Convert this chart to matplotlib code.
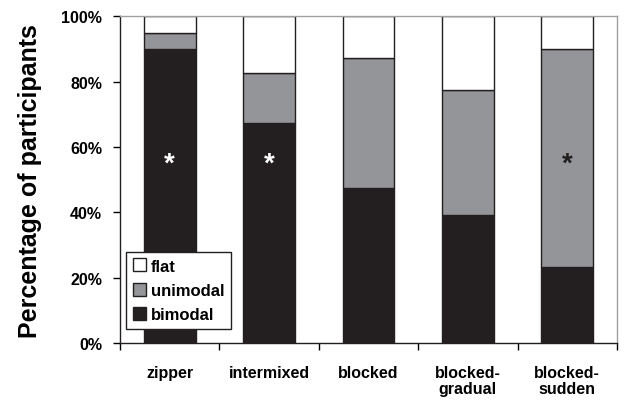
import numpy as np
import matplotlib
matplotlib.use("Agg")
import matplotlib.pyplot as plt
from matplotlib.patches import Patch

plt.rcParams['font.family'] = ['Liberation Sans', 'DejaVu Sans']
plt.rcParams['font.weight'] = 'bold'

# percentage of participants per condition
conditions = ['zipper', 'intermixed', 'blocked', 'blocked-\ngradual', 'blocked-\nsudden']
bimodal = [90.0, 67.4, 47.4, 39.1, 23.4]
unimodal = [5.0, 15.2, 39.8, 38.3, 66.6]
flat = [5.0, 17.4, 12.8, 22.6, 10.0]

# significance markers (star colour depends on the segment it sits on)
star_x = [0, 1, 4]
star_y = [55, 55, 55]
star_color = ['white', 'white', '#231f20']

c_bi, c_uni, c_flat = '#231f20', '#939598', 'white'
edge = '#231f20'

fig = plt.figure(figsize=(6.42, 4.02), dpi=100)
ax = fig.add_axes([0.187, 0.1443, 0.774, 0.8127])

x = np.arange(len(conditions))
w = 0.52
bot2 = np.array(bimodal) + np.array(unimodal)
ax.bar(x, bimodal, w, color=c_bi, edgecolor=edge, linewidth=1)
ax.bar(x, unimodal, w, bottom=bimodal, color=c_uni, edgecolor=edge, linewidth=1)
ax.bar(x, flat, w, bottom=bot2, color=c_flat, edgecolor=edge, linewidth=1)

for sx, sy, sc in zip(star_x, star_y, star_color):
    ax.text(sx, sy, '*', color=sc, fontsize=20, fontweight='bold',
            ha='center', va='center')

ax.set_xlim(-0.5, len(conditions) - 0.5)
ax.set_ylim(0, 100)
ax.set_yticks(np.arange(0, 101, 20))
ax.set_yticklabels([f'{v}%' for v in range(0, 101, 20)])
ax.set_xticks(x)
ax.set_xticklabels(conditions, linespacing=1.1)
ax.set_xticks(np.arange(-0.5, len(conditions), 1), minor=True)
ax.tick_params(axis='x', which='major', length=0, pad=16, labelsize=11.5)
ax.tick_params(axis='x', which='minor', length=5, width=1, direction='out')
ax.tick_params(axis='y', length=5, width=1, direction='out', pad=8, labelsize=11.5)

for s in ['left', 'bottom']:
    ax.spines[s].set_color('#231f20')
    ax.spines[s].set_linewidth(1)
for s in ['top', 'right']:
    ax.spines[s].set_color('#a0a0a0')
    ax.spines[s].set_linewidth(1)

ax.set_ylabel('Percentage of participants', fontsize=18, fontweight='bold',
              labelpad=14)

handles = [Patch(facecolor=c_flat, edgecolor=edge, label='flat'),
           Patch(facecolor=c_uni, edgecolor=edge, label='unimodal'),
           Patch(facecolor=c_bi, edgecolor=edge, label='bimodal')]
leg = ax.legend(handles=handles, loc='lower left', bbox_to_anchor=(0.012, 0.043),
                fontsize=12, frameon=True, fancybox=False, framealpha=1,
                edgecolor='#231f20', handlelength=0.8, handleheight=0.8,
                handletextpad=0.3, borderpad=0.4, labelspacing=0.55,
                borderaxespad=0)
leg.get_frame().set_linewidth(1)

fig.savefig('out.png', dpi=100)
